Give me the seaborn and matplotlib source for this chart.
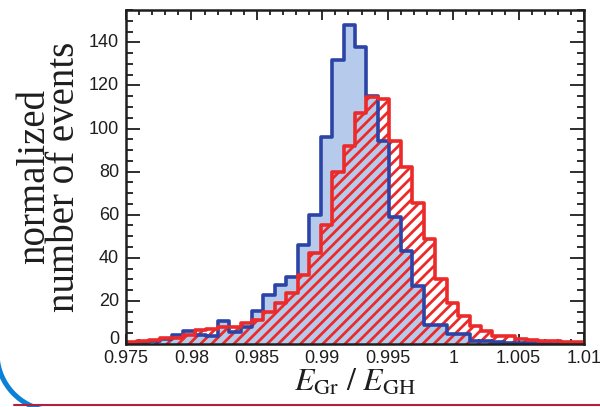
import numpy as np
import pandas as pd
import matplotlib
matplotlib.use("Agg")
import matplotlib.pyplot as plt
import matplotlib.transforms as mtransforms
from matplotlib.patches import Arc
from matplotlib.lines import Line2D
from matplotlib.ticker import MultipleLocator
import seaborn as sns

# Histogram binning of the energy ratio
x_min, x_max, n_bins = 0.975, 1.01, 40

# Normalized counts per bin
gr_counts = [0.5, 1, 1.5, 2.5, 4, 6, 4, 3.5, 10.8, 5.7,
             8, 15.5, 22.8, 27.4, 31.3, 46, 60, 96, 132, 148,
             138, 115, 94, 59, 43, 27, 9, 9, 4.5, 4.5,
             1.5, 1.5, 0.8, 0.5, 0.5, 0.3, 0.3, 0.2, 0.2, 0.2]
gh_counts = [1, 1.5, 2, 2.6, 3, 4.2, 6.5, 6.8, 7.7, 7.7,
             9.6, 11, 15, 19, 23.5, 32, 42, 55, 80, 92,
             107, 114.5, 113.5, 94, 82, 65.5, 48.7, 30, 19, 13,
             8.4, 6, 3.7, 3.5, 2.2, 2, 1.5, 1.2, 1, 1]

x_ticks = [0.975, 0.98, 0.985, 0.99, 0.995, 1.0, 1.005, 1.01]
x_ticklabels = ["0.975", "0.98", "0.985", "0.99", "0.995", "1", "1.005", "1.01"]
y_ticks = [0, 20, 40, 60, 80, 100, 120, 140]

edges = np.linspace(x_min, x_max, n_bins + 1)
centers = 0.5 * (edges[:-1] + edges[1:])
df = pd.DataFrame({"ratio": centers, "gr": gr_counts, "gh": gh_counts})
hist_kw = dict(data=df, x="ratio", bins=n_bins, binrange=(x_min, x_max),
               element="step")

dark_blue = "#2b44a6"
light_blue = "#b6cbec"
red = "#ec2a2a"
ink = "#1e1e1e"

sns.set_theme(style="white")
plt.rcParams["hatch.linewidth"] = 2.0
plt.rcParams["hatch.color"] = red
plt.rcParams["mathtext.fontset"] = "stix"

fig = plt.figure(figsize=(6.0, 4.07), dpi=100)
ax = fig.add_axes([126 / 600, 1 - 344 / 407, (584 - 126) / 600, (344 - 10) / 407])

# light blue filled histogram
sns.histplot(weights="gr", fill=True, color=light_blue, facecolor=light_blue,
             edgecolor="none", linewidth=0, alpha=1, ax=ax, **hist_kw)
# red hatching on top, transparent face
sns.histplot(weights="gh", fill=True, color=red, facecolor="none",
             edgecolor=red, linewidth=0, hatch="///", ax=ax, **hist_kw)
# outlines
sns.histplot(weights="gr", fill=False, color=dark_blue, linewidth=2.6, ax=ax,
             **hist_kw)
sns.histplot(weights="gh", fill=False, color=red, linewidth=2.6, ax=ax,
             **hist_kw)

ax.set_xlim(x_min, x_max)
ax.set_ylim(0, 155)
ax.set_xticks(x_ticks)
ax.set_xticklabels(x_ticklabels)
ax.set_yticks(y_ticks)
ax.xaxis.set_minor_locator(MultipleLocator(0.001))
ax.yaxis.set_minor_locator(MultipleLocator(5))

for s in ax.spines.values():
    s.set_linewidth(1.8)
    s.set_color(ink)
    s.set_visible(True)

ax.tick_params(axis="both", which="both", direction="in", top=True, right=True,
               bottom=True, left=True, color=ink, width=1.3)
ax.tick_params(axis="x", which="major", length=7, pad=4)
ax.tick_params(axis="x", which="minor", length=3.6)
ax.tick_params(axis="y", which="major", length=10, pad=5)
ax.tick_params(axis="y", which="minor", length=5)
for lab in ax.get_xticklabels() + ax.get_yticklabels():
    lab.set_fontfamily("Liberation Sans")
    lab.set_fontsize(13)
    lab.set_color(ink)

# lift the y labels a touch; the zero label sits above the corner
for lab in ax.get_yticklabels():
    dy = 6 if lab.get_text() == "0" else 1.5
    lab.set_transform(lab.get_transform() +
                      mtransforms.ScaledTranslation(0, dy / 100, fig.dpi_scale_trans))

ax.set_ylabel("normalized\nnumber of events", family="Liberation Serif",
              fontsize=28, color=ink, linespacing=0.76, labelpad=4)
ax.set_xlabel(r"$E_{\mathrm{Gr}}\ /\ E_{\mathrm{GH}}$", fontsize=23,
              color=ink, labelpad=0, math_fontfamily="stix")

# page decorations
fig.add_artist(Arc((55 / 600, 54 / 407), 116 / 600, 116 / 407,
                   theta1=185, theta2=265, color="#0a80d6", linewidth=3.6,
                   transform=fig.transFigure))
fig.add_artist(Line2D([14 / 600, 1.0], [2.5 / 407, 2.5 / 407],
                      color="#b3203f", linewidth=1.5,
                      transform=fig.transFigure))

fig.savefig("out.png", dpi=100)
